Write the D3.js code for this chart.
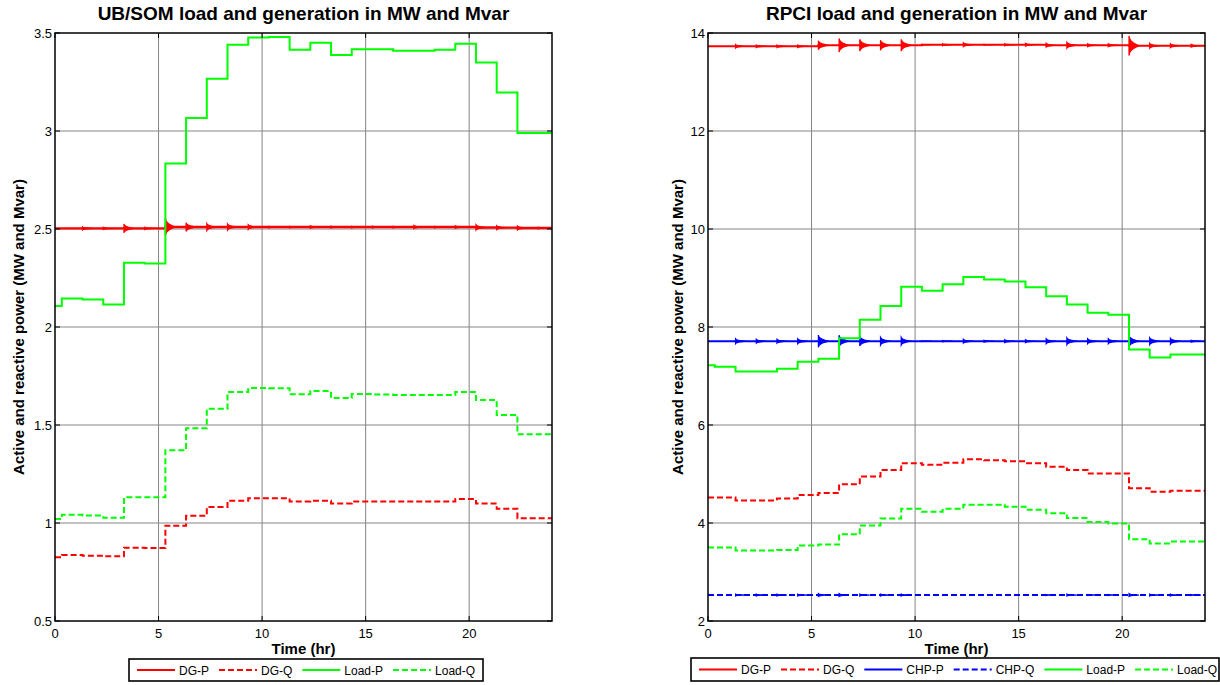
<!DOCTYPE html>
<html>
<head>
<meta charset="utf-8">
<script src="https://cdn.jsdelivr.net/npm/d3@7"></script>
<style>
  html, body { margin: 0; padding: 0; background: #fff; }
  svg { display: block; font-family: "Liberation Sans", Arial, Helvetica, sans-serif; }
</style>
</head>
<body>
<svg id="chart" width="1220" height="685"></svg>
<script>
// ---- shared time base (hours at which each hourly set-point starts) ----
const stepHours = [0, 0.33, 1.33, 2.33, 3.33, 4.33, 5.33, 6.33, 7.33, 8.33, 9.33, 10.33,
  11.33, 12.33, 13.33, 14.33, 15.33, 16.33, 17.33, 18.33, 19.33, 20.33, 21.33, 22.33, 23.33];
const endHour = 24;
const xTicks = [0, 5, 10, 15, 20];
const xTickLabels = ["0", "5", "10", "15", "20"];

// ---- UB/SOM feeder ----
const ubYTicks = [0.5, 1, 1.5, 2, 2.5, 3, 3.5];
const ubYTickLabels = ["0.5", "1", "1.5", "2", "2.5", "3", "3.5"];
const ubDgP = [2.503, 2.503, 2.503, 2.503, 2.503, 2.503, 2.510, 2.510, 2.510, 2.510, 2.510, 2.510,
  2.510, 2.510, 2.510, 2.510, 2.510, 2.510, 2.510, 2.510, 2.510, 2.508, 2.507, 2.505, 2.505];
const ubDgQ = [0.825, 0.837, 0.833, 0.830, 0.874, 0.873, 0.986, 1.037, 1.082, 1.114, 1.126, 1.126,
  1.110, 1.114, 1.100, 1.110, 1.110, 1.110, 1.110, 1.110, 1.122, 1.100, 1.073, 1.024, 1.024];
const ubLoadP = [2.107, 2.146, 2.140, 2.115, 2.328, 2.324, 2.834, 3.066, 3.267, 3.440, 3.477, 3.480,
  3.415, 3.450, 3.388, 3.417, 3.417, 3.410, 3.410, 3.415, 3.445, 3.350, 3.196, 2.990, 2.990];
const ubLoadQ = [1.020, 1.042, 1.038, 1.027, 1.131, 1.131, 1.371, 1.483, 1.583, 1.668, 1.689, 1.688,
  1.657, 1.673, 1.638, 1.658, 1.655, 1.653, 1.653, 1.653, 1.668, 1.628, 1.551, 1.453, 1.453];
// switching transient amplitude of DG active power at each set-point change
const ubDgPBurst = [0, 0, 0.008, 0.006, 0.022, 0.006, 0.045, 0.022, 0.018, 0.016, 0.012, 0.004,
  0.004, 0.006, 0.005, 0.004, 0.005, 0.004, 0.008, 0.004, 0.006, 0.014, 0.010, 0.010, 0.004];

// ---- RPCI feeder ----
const rpYTicks = [2, 4, 6, 8, 10, 12, 14];
const rpYTickLabels = ["2", "4", "6", "8", "10", "12", "14"];
const rpDgP = [13.73, 13.73, 13.73, 13.73, 13.73, 13.73, 13.75, 13.75, 13.75, 13.75, 13.75, 13.76,
  13.76, 13.76, 13.76, 13.76, 13.76, 13.75, 13.75, 13.75, 13.75, 13.74, 13.74, 13.74, 13.74];
const rpDgQ = [4.52, 4.52, 4.46, 4.46, 4.50, 4.57, 4.61, 4.79, 4.95, 5.08, 5.22, 5.19,
  5.23, 5.30, 5.28, 5.26, 5.22, 5.15, 5.08, 5.01, 5.01, 4.71, 4.64, 4.66, 4.66];
const rpChpP = [7.71, 7.71, 7.71, 7.71, 7.71, 7.71, 7.71, 7.71, 7.71, 7.71, 7.71, 7.71,
  7.71, 7.71, 7.71, 7.71, 7.71, 7.71, 7.71, 7.71, 7.71, 7.71, 7.71, 7.71, 7.71];
const rpChpQ = [2.53, 2.53, 2.53, 2.53, 2.53, 2.53, 2.53, 2.53, 2.53, 2.53, 2.53, 2.53,
  2.53, 2.53, 2.53, 2.53, 2.53, 2.53, 2.53, 2.53, 2.53, 2.53, 2.53, 2.53, 2.53];
const rpLoadP = [7.22, 7.19, 7.09, 7.09, 7.15, 7.29, 7.35, 7.77, 8.15, 8.43, 8.82, 8.74,
  8.87, 9.02, 8.97, 8.93, 8.81, 8.63, 8.46, 8.29, 8.25, 7.54, 7.38, 7.44, 7.44];
const rpLoadQ = [3.50, 3.50, 3.44, 3.44, 3.45, 3.54, 3.56, 3.77, 3.95, 4.09, 4.29, 4.23,
  4.29, 4.37, 4.37, 4.33, 4.27, 4.20, 4.10, 4.02, 3.99, 3.67, 3.58, 3.62, 3.62];
const rpDgPBurst = [0, 0, 0.035, 0.025, 0.025, 0.025, 0.09, 0.14, 0.12, 0.10, 0.12, 0.01,
  0.02, 0.04, 0.01, 0.02, 0.03, 0.04, 0.06, 0.03, 0.03, 0.20, 0.05, 0.04, 0.03];
const rpChpPBurst = [0, 0, 0.05, 0.04, 0.04, 0.05, 0.125, 0.12, 0.10, 0.08, 0.08, 0.005,
  0.012, 0.04, 0.02, 0.03, 0.03, 0.05, 0.07, 0.05, 0.05, 0.12, 0.07, 0.06, 0.02];
const rpChpQBurst = [0, 0, 0.02, 0.02, 0.02, 0.02, 0.03, 0.03, 0.02, 0.02, 0.02, 0,
  0, 0, 0, 0, 0, 0.01, 0.02, 0.01, 0.01, 0.03, 0.02, 0.02, 0.01];

const RED = "#ff0000", GREEN = "#00ff00", BLUE = "#0000ff";

const panels = [
  {
    title: "UB/SOM load and generation in MW and Mvar",
    left: 55, right: 552, top: 33, bottom: 621,
    yDomain: [0.5, 3.5], yTicks: ubYTicks, yTickLabels: ubYTickLabels,
    yLabelX: 24,
    legend: { left: 129, right: 483, top: 659, bottom: 681 },
    series: [
      { name: "DG-P", values: ubDgP, color: RED, dash: null, width: 2.4, burst: ubDgPBurst },
      { name: "DG-Q", values: ubDgQ, color: RED, dash: "6,3", width: 2 },
      { name: "Load-P", values: ubLoadP, color: GREEN, dash: null, width: 2 },
      { name: "Load-Q", values: ubLoadQ, color: GREEN, dash: "6,3", width: 2 }
    ]
  },
  {
    title: "RPCI load and generation in MW and Mvar",
    left: 708, right: 1205, top: 33, bottom: 621,
    yDomain: [2, 14], yTicks: rpYTicks, yTickLabels: rpYTickLabels,
    yLabelX: 683,
    legend: { left: 691, right: 1219, top: 658, bottom: 681 },
    series: [
      { name: "DG-P", values: rpDgP, color: RED, dash: null, width: 2, burst: rpDgPBurst },
      { name: "DG-Q", values: rpDgQ, color: RED, dash: "6,3", width: 2 },
      { name: "CHP-P", values: rpChpP, color: BLUE, dash: null, width: 2, burst: rpChpPBurst },
      { name: "CHP-Q", values: rpChpQ, color: BLUE, dash: "6,3", width: 2, burst: rpChpQBurst },
      { name: "Load-P", values: rpLoadP, color: GREEN, dash: null, width: 2 },
      { name: "Load-Q", values: rpLoadQ, color: GREEN, dash: "6,3", width: 2 }
    ]
  }
];

const svg = d3.select("#chart");
svg.append("rect").attr("width", 1220).attr("height", 685).attr("fill", "#fff");

// decaying envelope of a switching transient (hours after the step, share of peak)
const burstOffsets = [0, 0.03, 0.1, 0.2, 0.33, 0.48];
const burstShape = [1, 0.72, 0.48, 0.3, 0.14, 0];

panels.forEach((p, pi) => {
  const x = d3.scaleLinear().domain([0, endHour]).range([p.left, p.right]);
  const y = d3.scaleLinear().domain(p.yDomain).range([p.bottom, p.top]);
  const g = svg.append("g");

  // grid
  const grid = g.append("g").attr("stroke", "#858585").attr("stroke-width", 1);
  xTicks.filter(t => t > 0).forEach(t => {
    grid.append("line").attr("x1", x(t)).attr("x2", x(t)).attr("y1", p.top).attr("y2", p.bottom);
  });
  p.yTicks.filter(v => v > p.yDomain[0] && v < p.yDomain[1]).forEach(v => {
    grid.append("line").attr("x1", p.left).attr("x2", p.right).attr("y1", y(v)).attr("y2", y(v));
  });

  // plot area clip
  const clipId = "clip" + pi;
  svg.append("clipPath").attr("id", clipId).append("rect")
    .attr("x", p.left).attr("y", p.top).attr("width", p.right - p.left).attr("height", p.bottom - p.top);
  const plot = g.append("g").attr("clip-path", `url(#${clipId})`);

  const stepLine = d3.line().x(d => x(d[0])).y(d => y(d[1])).curve(d3.curveStepAfter);
  const poly = d3.line().x(d => x(d[0])).y(d => y(d[1]));

  p.series.forEach(s => {
    const pts = stepHours.map((h, i) => [h, s.values[i]]);
    pts.push([endHour, s.values[s.values.length - 1]]);
    plot.append("path")
      .attr("d", stepLine(pts))
      .attr("fill", "none")
      .attr("stroke", s.color)
      .attr("stroke-width", s.width)
      .attr("stroke-dasharray", s.dash)
      .attr("stroke-linejoin", "miter");

    if (s.burst) {
      s.burst.forEach((a, i) => {
        if (!a) return;
        const t = stepHours[i], v = s.values[i];
        const upper = burstOffsets.map((o, k) => [t + o, v + a * burstShape[k]]);
        const lower = burstOffsets.map((o, k) => [t + o, v - a * burstShape[k]]).reverse();
        plot.append("path")
          .attr("d", poly(upper.concat(lower)) + "Z")
          .attr("fill", s.color)
          .attr("stroke", s.color)
          .attr("stroke-width", 1.2);
      });
    }
  });

  // axes box
  g.append("rect")
    .attr("x", p.left).attr("y", p.top)
    .attr("width", p.right - p.left).attr("height", p.bottom - p.top)
    .attr("fill", "none").attr("stroke", "#000").attr("stroke-width", 1.5);

  // inward ticks on all four sides
  const ticks = g.append("g").attr("stroke", "#000").attr("stroke-width", 1);
  const tl = 5;
  xTicks.forEach(t => {
    ticks.append("line").attr("x1", x(t)).attr("x2", x(t)).attr("y1", p.bottom).attr("y2", p.bottom - tl);
    ticks.append("line").attr("x1", x(t)).attr("x2", x(t)).attr("y1", p.top).attr("y2", p.top + tl);
  });
  p.yTicks.forEach(v => {
    ticks.append("line").attr("x1", p.left).attr("x2", p.left + tl).attr("y1", y(v)).attr("y2", y(v));
    ticks.append("line").attr("x1", p.right).attr("x2", p.right - tl).attr("y1", y(v)).attr("y2", y(v));
  });

  // tick labels
  xTicks.forEach((t, i) => {
    g.append("text").attr("x", x(t)).attr("y", p.bottom + 17)
      .attr("text-anchor", "middle").attr("font-size", 13).attr("fill", "#000")
      .text(xTickLabels[i]);
  });
  p.yTicks.forEach((v, i) => {
    g.append("text").attr("x", p.left - 3).attr("y", y(v) + 4.5)
      .attr("text-anchor", "end").attr("font-size", 13).attr("fill", "#000")
      .text(p.yTickLabels[i]);
  });

  // labels and title
  g.append("text").attr("x", (p.left + p.right) / 2).attr("y", 654)
    .attr("text-anchor", "middle").attr("font-size", 15).attr("font-weight", "bold")
    .text("Time (hr)");
  const cy = (p.top + p.bottom) / 2;
  g.append("text")
    .attr("transform", `translate(${p.yLabelX},${cy}) rotate(-90)`)
    .attr("text-anchor", "middle").attr("font-size", 15).attr("font-weight", "bold")
    .text("Active and reactive power (MW and Mvar)");
  g.append("text").attr("x", (p.left + p.right) / 2).attr("y", 20)
    .attr("text-anchor", "middle").attr("font-size", 19).attr("font-weight", "bold")
    .text(p.title);

  // legend
  const L = p.legend;
  const lg = g.append("g");
  lg.append("rect").attr("x", L.left).attr("y", L.top)
    .attr("width", L.right - L.left).attr("height", L.bottom - L.top)
    .attr("fill", "#fff").attr("stroke", "#000").attr("stroke-width", 1.6);
  const midY = (L.top + L.bottom) / 2;
  let cx = L.left + 8;
  p.series.forEach(s => {
    lg.append("line").attr("x1", cx).attr("x2", cx + 38).attr("y1", midY).attr("y2", midY)
      .attr("stroke", s.color).attr("stroke-width", 2).attr("stroke-dasharray", s.dash);
    const txt = lg.append("text").attr("x", cx + 42).attr("y", midY + 4.5)
      .attr("font-size", 12).attr("fill", "#000").text(s.name);
    cx += 42 + txt.node().getComputedTextLength() + 10;
  });
});
</script>
</body>
</html>
